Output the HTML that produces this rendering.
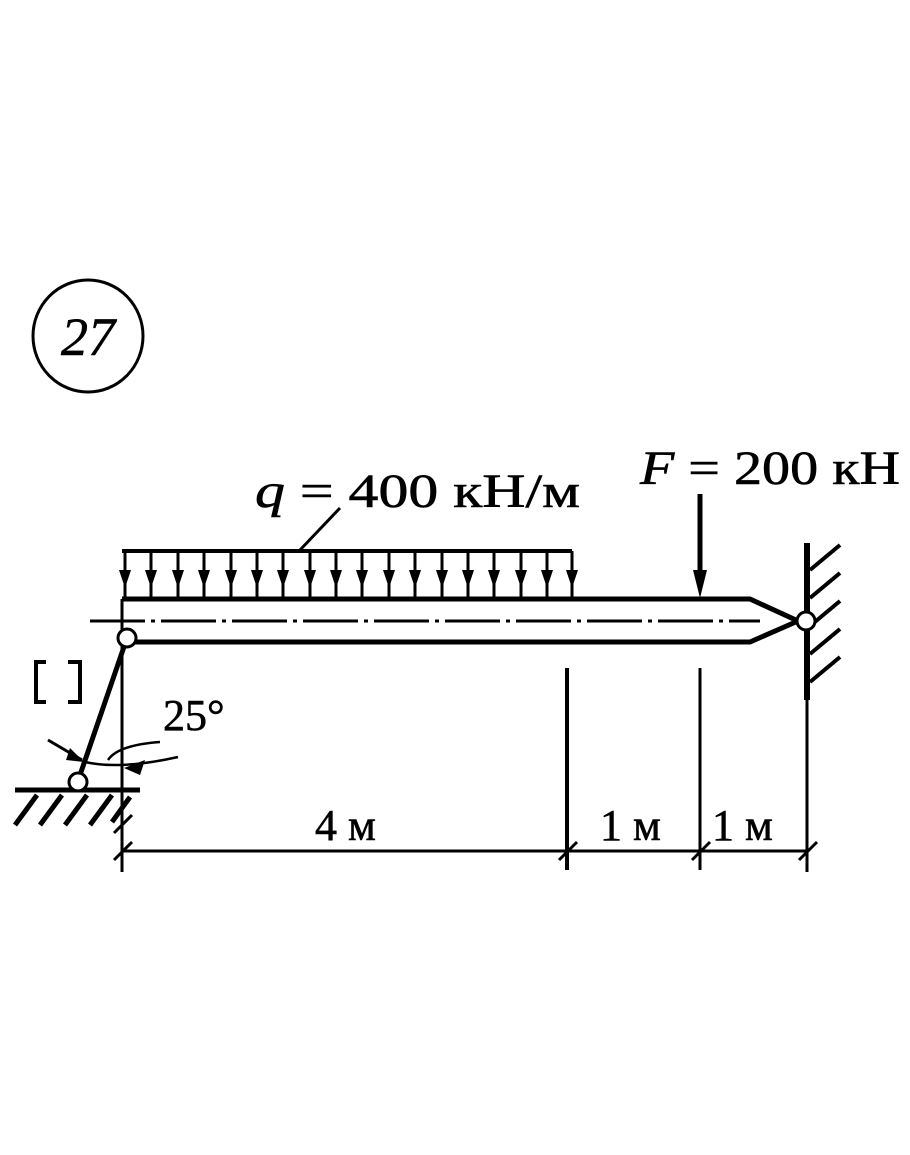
<!DOCTYPE html>
<html><head><meta charset="utf-8"><style>
html,body{margin:0;padding:0;background:#fff;}
svg{display:block;}
text{font-family:"Liberation Serif",serif;fill:#000;stroke:#000;stroke-width:0.6;}
</style></head><body>
<svg width="910" height="1155" viewBox="0 0 910 1155" xmlns="http://www.w3.org/2000/svg">
<!-- 27 circle -->
<ellipse cx="88" cy="336" rx="55" ry="56" fill="none" stroke="#000" stroke-width="3"/>
<text x="88" y="355" font-size="54" text-anchor="middle" font-style="italic">27</text>

<!-- labels -->
<text x="255" y="507" font-size="48" textLength="325" lengthAdjust="spacingAndGlyphs"><tspan font-style="italic">q</tspan> = 400 кН/м</text>
<text x="640" y="484" font-size="48" textLength="260" lengthAdjust="spacingAndGlyphs"><tspan font-style="italic">F</tspan> = 200 кН</text>
<line x1="340" y1="508" x2="300" y2="550" stroke="#000" stroke-width="3"/>

<!-- distributed load -->
<line x1="122" y1="551" x2="572" y2="551" stroke="#000" stroke-width="4"/>
<g stroke="#000" stroke-width="3">
<line x1="125" y1="551" x2="125" y2="598"/><line x1="151" y1="551" x2="151" y2="598"/><line x1="178" y1="551" x2="178" y2="598"/><line x1="204" y1="551" x2="204" y2="598"/><line x1="231" y1="551" x2="231" y2="598"/><line x1="257" y1="551" x2="257" y2="598"/><line x1="283" y1="551" x2="283" y2="598"/><line x1="310" y1="551" x2="310" y2="598"/><line x1="336" y1="551" x2="336" y2="598"/><line x1="362" y1="551" x2="362" y2="598"/><line x1="389" y1="551" x2="389" y2="598"/><line x1="415" y1="551" x2="415" y2="598"/><line x1="442" y1="551" x2="442" y2="598"/><line x1="468" y1="551" x2="468" y2="598"/><line x1="494" y1="551" x2="494" y2="598"/><line x1="521" y1="551" x2="521" y2="598"/><line x1="547" y1="551" x2="547" y2="598"/><line x1="572" y1="551" x2="572" y2="598"/>
</g>
<g fill="#000">
<path d="M119,570h12l-6,18z"/><path d="M145,570h12l-6,18z"/><path d="M172,570h12l-6,18z"/><path d="M198,570h12l-6,18z"/><path d="M225,570h12l-6,18z"/><path d="M251,570h12l-6,18z"/><path d="M277,570h12l-6,18z"/><path d="M304,570h12l-6,18z"/><path d="M330,570h12l-6,18z"/><path d="M356,570h12l-6,18z"/><path d="M383,570h12l-6,18z"/><path d="M409,570h12l-6,18z"/><path d="M436,570h12l-6,18z"/><path d="M462,570h12l-6,18z"/><path d="M488,570h12l-6,18z"/><path d="M515,570h12l-6,18z"/><path d="M541,570h12l-6,18z"/><path d="M566,570h12l-6,18z"/>
</g>

<!-- F arrow -->
<line x1="700" y1="494" x2="700" y2="575" stroke="#000" stroke-width="5"/>
<path d="M693,570h14l-7,28z" fill="#000"/>

<!-- beam -->
<path d="M122,599 L750,599 L798,621 L750,642 L135,642" fill="none" stroke="#000" stroke-width="5"/>
<line x1="90" y1="621" x2="760" y2="621" stroke="#000" stroke-width="3" stroke-dasharray="55,6,4,6"/>

<!-- wall right -->
<line x1="807" y1="543" x2="807" y2="700" stroke="#000" stroke-width="6"/>
<g stroke="#000" stroke-width="4">
<line x1="810" y1="570" x2="840" y2="545"/><line x1="810" y1="598" x2="840" y2="573"/><line x1="810" y1="626" x2="840" y2="601"/><line x1="810" y1="654" x2="840" y2="629"/><line x1="810" y1="682" x2="840" y2="657"/>
</g>
<line x1="807" y1="700" x2="807" y2="872" stroke="#000" stroke-width="3"/>
<circle cx="806" cy="621" r="9" fill="#fff" stroke="#000" stroke-width="3"/>

<!-- left support -->
<line x1="122" y1="599" x2="122" y2="872" stroke="#000" stroke-width="3"/>
<line x1="127" y1="638" x2="80" y2="775" stroke="#000" stroke-width="5"/>
<circle cx="127" cy="638" r="9" fill="#fff" stroke="#000" stroke-width="3"/>
<line x1="15" y1="790" x2="140" y2="790" stroke="#000" stroke-width="5"/>
<g stroke="#000" stroke-width="5">
<line x1="15" y1="825" x2="37" y2="795"/><line x1="40" y1="825" x2="62" y2="795"/><line x1="65" y1="825" x2="87" y2="795"/><line x1="90" y1="825" x2="112" y2="795"/><line x1="112" y1="822" x2="130" y2="797"/>
</g>
<circle cx="78" cy="782" r="9" fill="#fff" stroke="#000" stroke-width="3"/>
<!-- [ ] -->
<path d="M46,662 H36 V702 H46 M68,662 H80 V702 H68" fill="none" stroke="#000" stroke-width="4"/>
<!-- angle -->
<text x="163" y="730" font-size="44">25°</text>
<path d="M108,760 Q118,745 160,742" fill="none" stroke="#000" stroke-width="2.5"/>
<path d="M85,762 Q120,770 178,757" fill="none" stroke="#000" stroke-width="2.5"/>
<path d="M48,740 L82,760" stroke="#000" stroke-width="3"/>
<path d="M70,748 L84,762 L66,760z" fill="#000"/>
<path d="M124,768 L145,760 L140,775z" fill="#000"/>

<!-- dimensions -->
<line x1="567" y1="668" x2="567" y2="870" stroke="#000" stroke-width="4"/>
<line x1="700" y1="668" x2="700" y2="870" stroke="#000" stroke-width="3"/>
<line x1="122" y1="851" x2="807" y2="851" stroke="#000" stroke-width="3"/>
<g stroke="#000" stroke-width="3">
<line x1="114" y1="860" x2="132" y2="842"/><line x1="114" y1="833" x2="132" y2="815"/>
<line x1="559" y1="860" x2="577" y2="842"/><line x1="692" y1="860" x2="710" y2="842"/><line x1="799" y1="860" x2="817" y2="842"/>
</g>
<text x="315" y="840" font-size="44">4 м</text>
<text x="600" y="840" font-size="44">1 м</text>
<text x="712" y="840" font-size="44">1 м</text>
</svg>
</body></html>
